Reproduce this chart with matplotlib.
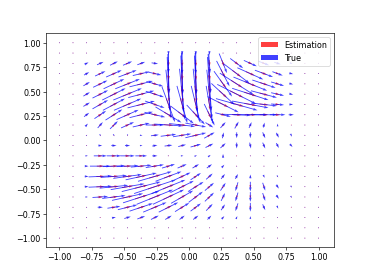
import numpy as np
from matplotlib import pyplot as plt

grid = np.linspace(-1, 1, 20)
y_rows = grid[::-1]  # rows below go from top (y = 1) to bottom (y = -1)

u_true = [
    [0, 0, 0, 0, 0, 0, 0, 0, 0, 0, 0, 0, 0, 0, 0, 0, 0, 0, 0, 0],
    [0, 0, 0, 0, 0, 0, 0, 0, 0, 0, 0, 0, 0, 0, 0, 0, 0, 0, 0, 0],
    [0, 0, .03, .05, .06, .07, .06, .05, 0, 0, 0, .01, .06, .10, .10, .08, .05, .02, 0, 0],
    [0, 0, .04, .08, .12, .14, .13, .10, .01, .01, .01, .02, .10, .20, .20, .14, .08, .03, 0, 0],
    [0, 0, .05, .11, .16, .19, .18, .13, .02, .02, .02, .03, .14, .26, .26, .18, .10, .03, 0, 0],
    [0, 0, .05, .12, .18, .22, .20, .14, .04, .04, .04, .04, .18, .30, .28, .20, .10, .03, 0, 0],
    [0, 0, .05, .12, .17, .21, .21, .15, .10, .08, .07, .05, .24, .32, .28, .20, .10, .03, 0, 0],
    [0, 0, .04, .09, .13, .17, .18, .16, .20, .18, .14, .08, .12, .22, .26, .20, .12, .04, 0, 0],
    [0, 0, .02, .04, .06, .10, .13, .14, .22, .20, .16, .06, .04, .03, .02, .01, 0, 0, 0, 0],
    [0, 0, .01, .01, .01, 0, .02, .06, .12, .14, .16, .08, .01, 0, 0, .02, .02, .01, 0, 0],
    [0, 0, .01, .03, .04, .04, .02, .04, .06, .06, .08, .06, .04, 0, .01, .02, .02, .02, 0, 0],
    [0, 0, .02, .10, .11, .11, .09, .04, .01, .02, .02, .02, 0, 0, 0, .01, 0, 0, 0, 0],
    [0, 0, .03, .16, .17, .17, .16, .14, .10, .07, .05, .04, .02, .01, 0, 0, 0, 0, 0, 0],
    [0, 0, .03, .18, .20, .22, .24, .26, .20, .13, .08, .05, .03, .02, 0, .01, .01, 0, 0, 0],
    [0, 0, .03, .18, .22, .26, .30, .32, .26, .18, .12, .07, .04, -.02, 0, .02, .02, .01, 0, 0],
    [0, 0, .02, .12, .18, .24, .28, .28, .24, .17, .11, .07, .03, -.02, 0, .02, .02, .01, 0, 0],
    [0, 0, .01, .04, .10, .15, .18, .18, .15, .11, .08, .05, .03, -.02, 0, .02, .01, 0, 0, 0],
    [0, 0, 0, .01, .03, .05, .06, .06, .05, .04, .04, .03, .02, .01, 0, 0, 0, 0, 0, 0],
    [0, 0, 0, 0, 0, 0, 0, 0, 0, 0, 0, 0, 0, 0, 0, 0, 0, 0, 0, 0],
    [0, 0, 0, 0, 0, 0, 0, 0, 0, 0, 0, 0, 0, 0, 0, 0, 0, 0, 0, 0],
]
v_true = [
    [0, 0, 0, 0, 0, 0, 0, 0, 0, 0, 0, 0, 0, 0, 0, 0, 0, 0, 0, 0],
    [0, 0, 0, 0, 0, 0, 0, 0, -.04, -.04, -.04, -.04, 0, 0, 0, 0, 0, 0, 0, 0],
    [0, 0, .02, .03, .04, .04, .03, -.01, -.20, -.22, -.22, -.20, -.20, -.10, -.06, -.04, -.02, -.01, 0, 0],
    [0, 0, .03, .05, .07, .07, .04, -.03, -.40, -.42, -.42, -.40, -.26, -.20, -.12, -.07, -.04, -.01, 0, 0],
    [0, 0, .04, .07, .10, .10, .06, -.05, -.55, -.58, -.58, -.55, -.26, -.22, -.14, -.08, -.04, -.01, 0, 0],
    [0, 0, .04, .08, .12, .12, .07, -.06, -.50, -.52, -.52, -.50, -.22, -.20, -.12, -.07, -.03, -.01, 0, 0],
    [0, 0, .04, .09, .12, .12, .07, -.07, -.36, -.38, -.38, -.38, -.16, -.12, -.07, -.03, -.01, 0, 0, 0],
    [0, 0, .04, .08, .11, .10, .06, -.05, -.16, -.18, -.20, -.22, -.04, -.01, 0, 0, 0, 0, 0, 0],
    [0, 0, .03, .06, .08, .06, .04, 0, -.02, -.03, -.04, -.05, .06, .07, .06, .05, .03, .01, 0, 0],
    [0, 0, .01, -.02, -.02, -.02, 0, .01, .02, .03, .05, .06, .06, -.06, -.06, -.06, -.05, -.03, 0, 0],
    [0, 0, 0, 0, 0, 0, 0, .01, .01, .02, .03, .04, .05, -.06, -.06, -.06, -.05, -.03, 0, 0],
    [0, 0, 0, 0, 0, 0, 0, 0, 0, 0, .01, .02, .04, .01, 0, -.01, 0, 0, 0, 0],
    [0, 0, 0, 0, .01, .01, .02, .03, .04, .04, .04, .04, .03, 0, 0, 0, 0, 0, 0, 0],
    [0, 0, 0, .01, .02, .04, .07, .10, .10, .08, .07, .06, .05, .05, .04, -.03, -.02, 0, 0, 0],
    [0, 0, 0, .01, .03, .06, .10, .14, .14, .12, .10, .08, .08, -.09, -.10, -.08, -.04, -.02, 0, 0],
    [0, 0, 0, .01, .03, .07, .12, .15, .15, .13, .11, .09, .08, -.09, -.10, -.08, -.04, -.02, 0, 0],
    [0, 0, 0, 0, .02, .05, .08, .10, .10, .09, .08, .07, .06, -.08, -.09, -.06, -.03, -.01, 0, 0],
    [0, 0, 0, 0, .01, .02, .03, .04, .04, .04, .04, .04, .03, .03, .03, .01, 0, 0, 0, 0],
    [0, 0, 0, 0, 0, 0, 0, 0, 0, 0, 0, 0, 0, 0, 0, 0, 0, 0, 0, 0],
    [0, 0, 0, 0, 0, 0, 0, 0, 0, 0, 0, 0, 0, 0, 0, 0, 0, 0, 0, 0],
]

X, Y = np.meshgrid(grid, y_rows)
U = np.array(u_true, dtype=float)
V = np.array(v_true, dtype=float)

fig = plt.figure(figsize=(6.4, 4.8), dpi=58)
# estimation arrows come out shorter (own autoscale) and sit under the true ones
plt.quiver(X, Y, U, V, color='red', alpha=0.75, angles='xy', pivot='middle',
           scale_units='xy', scale=3, label='Estimation')
plt.quiver(X, Y, U, V, color='blue', alpha=0.75, angles='xy', pivot='middle',
           scale_units='xy', scale=1, label='True')
plt.xlim(-1.1, 1.12)
plt.ylim(-1.095, 1.1)
plt.xticks(np.arange(-1, 1.01, 0.25))
plt.yticks(np.arange(-1, 1.01, 0.25))
plt.legend(loc='upper right')
plt.savefig('out.png')
